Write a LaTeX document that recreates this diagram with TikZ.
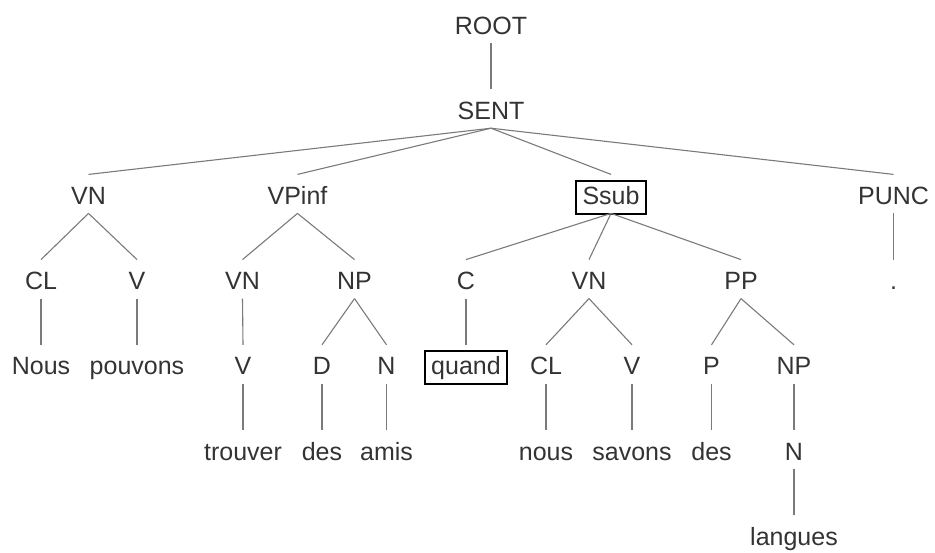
\documentclass[tikz,border=0pt]{standalone}
\usepackage{fontspec}
\setmainfont{Liberation Sans}
\definecolor{txt}{HTML}{333333}
\definecolor{edge}{HTML}{7A7A7A}
\begin{document}
\begin{tikzpicture}[x=1pt,y=-1pt,
  lab/.style={anchor=base,inner sep=0pt,outer sep=0pt,text height=30pt,text depth=9pt,
    text=txt,font=\fontsize{25}{30}\selectfont},
  frame/.style={anchor=base,draw=black,line width=1.8pt,inner xsep=6.5pt,inner ysep=4.5pt,
    text height=19pt,text depth=5pt,font=\fontsize{25}{30}\selectfont},
  edg/.style={draw=edge,line width=1.1pt}]
\useasboundingbox (0,0) rectangle (935,552);
% rows (baselines)
\def\ra{34}\def\rb{119.2}\def\rc{204.4}\def\rd{289.6}\def\re{374.8}\def\rf{460}\def\rg{545.2}
\node[lab] (root) at (491,\ra) {ROOT};
\node[lab] (sent) at (491,\rb) {SENT};
\node[lab] (vn1) at (88.5,\rc) {VN};
\node[lab] (vpinf) at (297.5,\rc) {VPinf};
\node[lab] (ssub) at (611,\rc) {Ssub};
\node[lab] (punc) at (893.5,\rc) {PUNC};
\node[lab] (cl1) at (41,\rd) {CL};
\node[lab] (v1) at (137,\rd) {V};
\node[lab] (vn2) at (242.5,\rd) {VN};
\node[lab] (np1) at (354.5,\rd) {NP};
\node[lab] (c) at (466,\rd) {C};
\node[lab] (vn3) at (589,\rd) {VN};
\node[lab] (pp) at (741,\rd) {PP};
\node[lab] (dot) at (893.5,\rd) {.};
\node[lab] (nous1) at (41,\re) {Nous};
\node[lab] (pouvons) at (137,\re) {pouvons};
\node[lab] (v2) at (243,\re) {V};
\node[lab] (d) at (322,\re) {D};
\node[lab] (n1) at (386.5,\re) {N};
\node[lab] (quand) at (466,\re) {quand};
\node[lab] (cl2) at (546,\re) {CL};
\node[lab] (v3) at (632,\re) {V};
\node[lab] (p) at (711.5,\re) {P};
\node[lab] (np2) at (794,\re) {NP};
\node[lab] (trouver) at (243,\rf) {trouver};
\node[lab] (des1) at (322,\rf) {des};
\node[lab] (amis) at (386.5,\rf) {amis};
\node[lab] (nous2) at (546,\rf) {nous};
\node[lab] (savons) at (632,\rf) {savons};
\node[lab] (des2) at (711.5,\rf) {des};
\node[lab] (n2) at (794,\rf) {N};
\node[lab] (langues) at (794,\rg) {langues};
% frames
\node[frame] (ssubbox) at (ssub.base) {\phantom{Ssub}};
\node[frame] (quandbox) at (quand.base) {\phantom{quand}};
% edges
\path[edg] (root.south) -- (sent.north);
\path[edg] (sent.south) -- (vn1.north);
\path[edg] (sent.south) -- (vpinf.north);
\path[edg] (sent.south) -- (ssub.north);
\path[edg] (sent.south) -- (punc.north);
\path[edg] (vn1.south) -- (cl1.north);
\path[edg] (vn1.south) -- (v1.north);
\path[edg] (vpinf.south) -- (vn2.north);
\path[edg] (vpinf.south) -- (np1.north);
\path[edg] (ssub.south) -- (c.north);
\path[edg] (ssub.south) -- (vn3.north);
\path[edg] (ssub.south) -- (pp.north);
\path[edg] (punc.south) -- (dot.north);
\path[edg] (cl1.south) -- (nous1.north);
\path[edg] (v1.south) -- (pouvons.north);
\path[edg] (vn2.south) -- (v2.north);
\path[edg] (np1.south) -- (d.north);
\path[edg] (np1.south) -- (n1.north);
\path[edg] (c.south) -- (quand.north);
\path[edg] (vn3.south) -- (cl2.north);
\path[edg] (vn3.south) -- (v3.north);
\path[edg] (pp.south) -- (p.north);
\path[edg] (pp.south) -- (np2.north);
\path[edg] (v2.south) -- (trouver.north);
\path[edg] (d.south) -- (des1.north);
\path[edg] (n1.south) -- (amis.north);
\path[edg] (cl2.south) -- (nous2.north);
\path[edg] (v3.south) -- (savons.north);
\path[edg] (p.south) -- (des2.north);
\path[edg] (np2.south) -- (n2.north);
\path[edg] (n2.south) -- (langues.north);
\end{tikzpicture}
\end{document}
